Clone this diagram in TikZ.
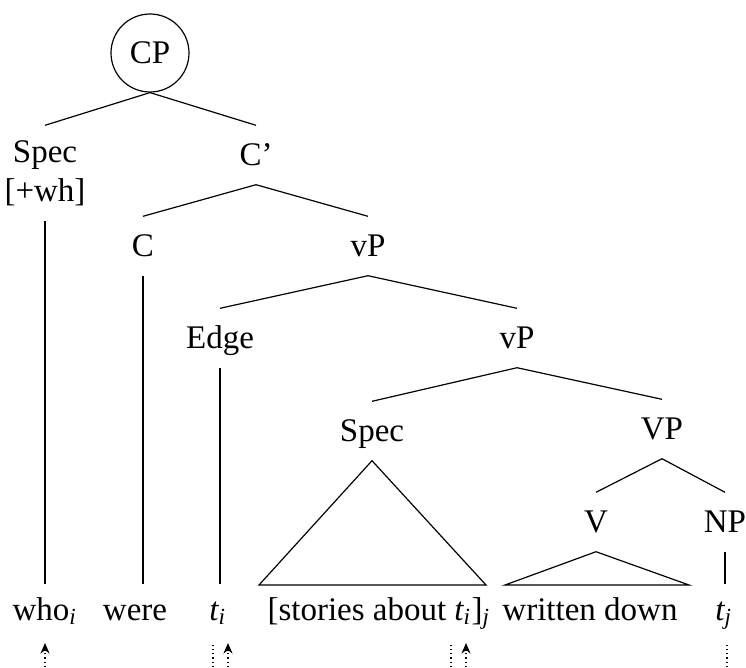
\documentclass[tikz,border=0pt]{standalone}
\usepackage{fontspec}
\setmainfont{Liberation Serif}
\usetikzlibrary{arrows.meta}
\newcommand{\idx}[1]{\textsubscript{\itshape #1}}

\tikzset{
  cat/.style={inner sep=0pt,minimum height=19.4pt,text height=7.3pt,text depth=0pt},
  word/.style={anchor=base,inner sep=0pt,text height=11.67pt,text depth=0pt},
  move/.style={densely dotted,-{Stealth[length=3.5pt,width=3pt]}},
  trace/.style={densely dotted}
}

\begin{document}
\begin{tikzpicture}[x=0.3333pt,y=-0.3333pt,font=\fontsize{11}{13}\selectfont]
  \useasboundingbox (0,0) rectangle (746,667);
  % Top of the tree
  \node at(150,53)[circle,draw,inner sep=0pt,minimum size=26pt](cp){CP};
  \node at(45,173)[align=center,inner sep=0pt,minimum height=31.4pt](specwh){Spec\\{[+wh]}};
  \node at(256,155)[cat](cbar){C'};
  \node at(143,246)[cat](c){C};
  \node at(368,246)[cat](vpa){vP};
  % Phase edge
  \node at(220,338)[cat](edge){Edge};
  \node at(517,338)[cat](vpb){vP};
  \node at(372,431)[cat](spec){Spec};
  \node at(662,429)[cat](vp){VP};
  \node at(596,522)[cat](v){V};
  \node at(725,522)[cat](np){NP};
  % Words
  \node at(45,620)[word](who){who\idx{i}};
  \node at(135,620)[word](were){were};
  \node at(218,620)[word](ti){{\itshape t}\idx{i}};
  \node at(379,620)[word](stories){[stories about {\itshape t}\idx{i}]\idx{j}};
  \node at(590,620)[word](written){written down};
  \node at(724,620)[word](tj){{\itshape t}\idx{j}};
  % Branches
  \draw (cp.south) -- (specwh.north);
  \draw (cp.south) -- (cbar.north);
  \draw (cbar.south) -- (c.north);
  \draw (cbar.south) -- (vpa.north);
  \draw (vpa.south) -- (edge.north);
  \draw (vpa.south) -- (vpb.north);
  \draw (vpb.south) -- (spec.north);
  \draw (vpb.south) -- (vp.north);
  \draw (vp.south) -- (v.north);
  \draw (vp.south) -- (np.north);
  % Lines down to the words
  \draw (specwh.south) -- (specwh.south |- who.north);
  \draw (c.south) -- (c.south |- were.north);
  \draw (edge.south) -- (edge.south |- ti.north);
  \draw (np.south) -- (np.south |- tj.north);
  % Triangles
  \coordinate (sl) at(259,585);
  \coordinate (sr) at(486,585);
  \draw (spec.south) -- (sl) -- (sr) -- cycle;
  \coordinate (vl) at(505,585);
  \coordinate (vr) at(689,585);
  \draw (v.south) -- (vl) -- (vr) -- cycle;
  % Movement
  \coordinate (m1a) at(45,667);  \coordinate (m1b) at(45,643);
  \coordinate (m2a) at(228,667); \coordinate (m2b) at(228,643);
  \coordinate (m3a) at(466,667); \coordinate (m3b) at(466,643);
  \coordinate (d1a) at(213,667); \coordinate (d1b) at(213,643);
  \coordinate (d2a) at(451,667); \coordinate (d2b) at(451,643);
  \coordinate (d3a) at(727,667); \coordinate (d3b) at(727,643);
  \draw [move](m1a) -- (m1b);
  \draw [move](m2a) -- (m2b);
  \draw [move](m3a) -- (m3b);
  \draw [trace](d1a) -- (d1b);
  \draw [trace](d2a) -- (d2b);
  \draw [trace](d3a) -- (d3b);
\end{tikzpicture}
\end{document}
